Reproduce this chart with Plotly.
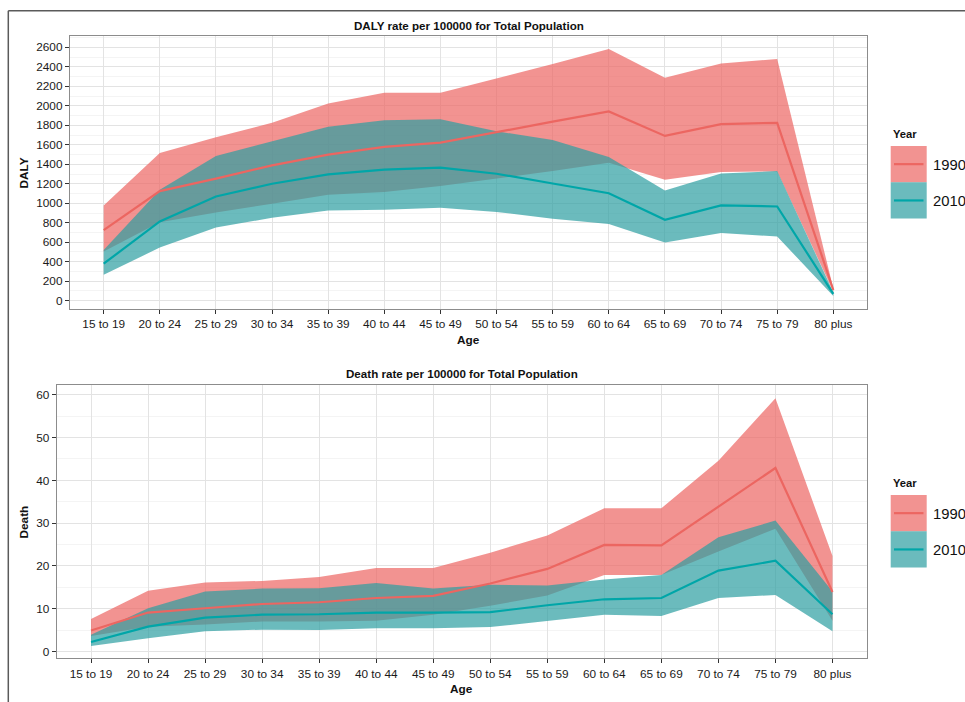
import plotly.graph_objects as go

# ---------------- data ----------------
age_groups = ["15 to 19", "20 to 24", "25 to 29", "30 to 34", "35 to 39", "40 to 44",
              "45 to 49", "50 to 54", "55 to 59", "60 to 64", "65 to 69", "70 to 74",
              "75 to 79", "80 plus"]
years = ["1990", "2010"]

daly_1990_mean = [725, 1125, 1252, 1389, 1499, 1578, 1622, 1732, 1837, 1942, 1691, 1811, 1825, 110]
daly_1990_lower = [505, 806, 906, 995, 1087, 1115, 1176, 1252, 1330, 1415, 1242, 1320, 1327, 95]
daly_1990_upper = [977, 1516, 1677, 1825, 2024, 2133, 2133, 2280, 2430, 2583, 2288, 2435, 2480, 125]
daly_2010_mean = [380, 813, 1070, 1200, 1297, 1345, 1365, 1303, 1203, 1103, 830, 978, 967, 70]
daly_2010_lower = [267, 545, 751, 851, 926, 933, 954, 911, 842, 788, 597, 696, 659, 48]
daly_2010_upper = [520, 1139, 1485, 1636, 1784, 1852, 1862, 1738, 1648, 1475, 1132, 1305, 1330, 88]

death_1990_mean = [4.9, 9.1, 10.1, 11.1, 11.5, 12.5, 13.0, 15.9, 19.3, 24.9, 24.8, 33.9, 42.9, 13.9]
death_1990_lower = [3.6, 5.8, 6.3, 7.0, 7.0, 7.2, 8.6, 10.7, 13.1, 17.9, 17.9, 23.4, 28.7, 7.2]
death_1990_upper = [7.6, 14.2, 16.1, 16.5, 17.4, 19.5, 19.5, 23.1, 27.1, 33.5, 33.5, 44.6, 59.2, 22.3]
death_2010_mean = [2.2, 5.8, 7.9, 8.6, 8.7, 9.1, 9.1, 9.2, 10.8, 12.2, 12.5, 18.9, 21.2, 8.7]
death_2010_lower = [1.3, 3.1, 4.7, 5.1, 5.0, 5.4, 5.4, 5.7, 7.2, 8.6, 8.3, 12.5, 13.2, 4.7]
death_2010_upper = [3.9, 10.1, 14.0, 14.7, 14.8, 16.0, 14.7, 15.6, 15.4, 16.8, 17.9, 26.7, 30.6, 14.0]

daly_ticks = list(range(0, 2601, 200))
death_ticks = list(range(0, 61, 10))

# ---------------- styling ----------------
W, H = 965, 702
FONT = "Liberation Sans, Arial, Helvetica, sans-serif"
RED_LINE = "#EC6661"
TEAL_LINE = "#00A6A8"
RED_FILL = "rgba(236,101,98,0.70)"
TEAL_FILL = "rgba(44,158,161,0.70)"

def px_x(v):
    return v / W

def px_y(v):
    return 1 - v / H

fig = go.Figure()

def add_panel(xa, ya, lo90, up90, m90, lo10, up10, m10):
    xs = age_groups + age_groups[::-1]
    fig.add_trace(go.Scatter(x=xs, y=up90 + lo90[::-1], fill="toself", fillcolor=RED_FILL,
                             line=dict(width=0), mode="lines", showlegend=False,
                             xaxis=xa, yaxis=ya, hoverinfo="skip"))
    fig.add_trace(go.Scatter(x=xs, y=up10 + lo10[::-1], fill="toself", fillcolor=TEAL_FILL,
                             line=dict(width=0), mode="lines", showlegend=False,
                             xaxis=xa, yaxis=ya, hoverinfo="skip"))
    fig.add_trace(go.Scatter(x=age_groups, y=m90, mode="lines", name=years[0],
                             line=dict(color=RED_LINE, width=2.2), showlegend=False,
                             xaxis=xa, yaxis=ya))
    fig.add_trace(go.Scatter(x=age_groups, y=m10, mode="lines", name=years[1],
                             line=dict(color=TEAL_LINE, width=2.2), showlegend=False,
                             xaxis=xa, yaxis=ya))

add_panel("x", "y", daly_1990_lower, daly_1990_upper, daly_1990_mean,
          daly_2010_lower, daly_2010_upper, daly_2010_mean)
add_panel("x2", "y2", death_1990_lower, death_1990_upper, death_1990_mean,
          death_2010_lower, death_2010_upper, death_2010_mean)

axis_common = dict(showline=True, mirror=True, linecolor="#8c8c8c", linewidth=1.3,
                   ticks="outside", ticklen=4, tickwidth=1, tickcolor="#333333",
                   showgrid=True, gridcolor="#E3E3E3", gridwidth=1.3, zeroline=False,
                   tickfont=dict(family=FONT, size=11.8, color="#1a1a1a"))

fig.update_layout(
    width=W, height=H,
    margin=dict(l=0, r=0, t=0, b=0),
    paper_bgcolor="white", plot_bgcolor="white",
    showlegend=False,
    font=dict(family=FONT),
    xaxis=dict(domain=[px_x(70), px_x(867)], anchor="y", type="category",
               categoryorder="array", categoryarray=age_groups, range=[-0.6, 13.6],
               **axis_common),
    yaxis=dict(domain=[px_y(309), px_y(36)], anchor="x", range=[-85, 2716],
               tickvals=daly_ticks,
               minor=dict(showgrid=True, gridcolor="#F4F4F4", gridwidth=1, dtick=100, tick0=0),
               **axis_common),
    xaxis2=dict(domain=[px_x(56.8), px_x(866.7)], anchor="y2", type="category",
                categoryorder="array", categoryarray=age_groups, range=[-0.6, 13.6],
                **axis_common),
    yaxis2=dict(domain=[px_y(658.3), px_y(385)], anchor="x2", range=[-1.6, 62.3],
                tickvals=death_ticks,
                minor=dict(showgrid=True, gridcolor="#F4F4F4", gridwidth=1, dtick=5, tick0=0),
                **axis_common),
)

annotations = []
def txt(x, y, s, size, bold=False, angle=0, xanchor="center", yanchor="middle"):
    annotations.append(dict(x=px_x(x), y=px_y(y), xref="paper", yref="paper",
                            text=f"<b>{s}</b>" if bold else s, showarrow=False,
                            textangle=angle, xanchor=xanchor, yanchor=yanchor,
                            font=dict(family=FONT, size=size, color="#111111")))

# titles
txt(468.5, 25, "DALY rate per 100000 for Total Population", 11.6, bold=True)
txt(461.7, 374, "Death rate per 100000 for Total Population", 11.6, bold=True)
# axis titles
txt(468.5, 340, "Age", 11.8, bold=True)
txt(461.7, 689, "Age", 11.8, bold=True)
txt(23.5, 173, "DALY", 11.8, bold=True, angle=-90)
txt(23.5, 522, "Death", 11.8, bold=True, angle=-90)

shapes = []
# outer frame (clipped by image on right and bottom)
shapes.append(dict(type="line", xref="paper", yref="paper",
                   x0=px_x(8.3), x1=px_x(970), y0=px_y(10.7), y1=px_y(10.7),
                   line=dict(color="#5a5a5a", width=1.5)))
shapes.append(dict(type="line", xref="paper", yref="paper",
                   x0=px_x(8.3), x1=px_x(8.3), y0=px_y(10.7), y1=px_y(710),
                   line=dict(color="#5a5a5a", width=1.5)))

# legends (one per panel)
def legend(top):
    txt(891, top - 12.5, "Year", 11.2, bold=True, xanchor="left")
    keys = [(RED_FILL, RED_LINE, years[0]), (TEAL_FILL, TEAL_LINE, years[1])]
    for i, (fc, lc, lab) in enumerate(keys):
        y0 = top + i * 36.3
        y1 = y0 + 36.3
        shapes.append(dict(type="rect", xref="paper", yref="paper",
                           x0=px_x(890.7), x1=px_x(926.7), y0=px_y(y1), y1=px_y(y0),
                           fillcolor=fc, line=dict(width=0), layer="above"))
        ym = (y0 + y1) / 2
        shapes.append(dict(type="line", xref="paper", yref="paper",
                           x0=px_x(894), x1=px_x(923.5), y0=px_y(ym), y1=px_y(ym),
                           line=dict(color=lc, width=2.2), layer="above"))
        txt(931.2, ym + 0.5, lab, 14.8, xanchor="left")

legend(146)
legend(495)

fig.update_layout(annotations=annotations, shapes=shapes)
fig.write_html(
    "out.html",
    config={"displayModeBar": False},
    post_script="document.body.style.margin='0';document.body.style.padding='0';"
                "document.body.style.overflow='hidden';"
                "document.documentElement.style.overflow='hidden';",
)
